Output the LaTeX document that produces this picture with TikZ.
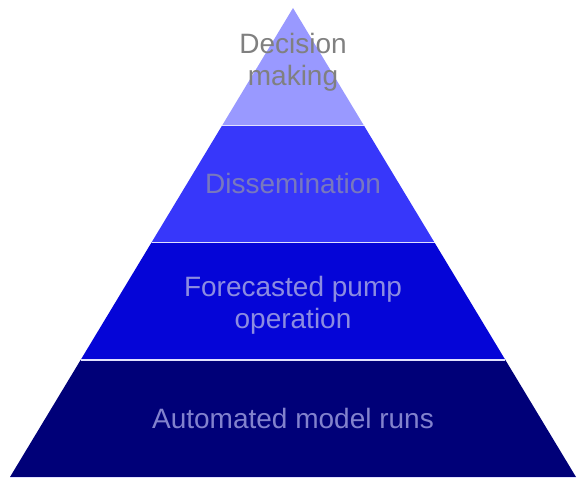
\documentclass[tikz,border=0pt]{standalone}
\usepackage{fontspec}
\setmainfont{Liberation Sans}
\usepackage{tikz}
\usetikzlibrary{calc}
\definecolor{layerone}{RGB}{153,153,255}
\definecolor{layertwo}{RGB}{55,55,250}
\definecolor{layerthree}{RGB}{5,5,215}
\definecolor{layerfour}{RGB}{0,0,120}
\definecolor{textone}{RGB}{128,128,128}
\definecolor{texttwo}{RGB}{120,120,190}
\definecolor{textthree}{RGB}{140,140,225}
\definecolor{textfour}{RGB}{130,130,205}
\definecolor{seamline}{RGB}{225,225,255}

\begin{document}
\begin{tikzpicture}[x=1pt,y=1pt,
    label/.style={align=center,font=\fontsize{28}{32}\selectfont}]
                \useasboundingbox (0,0) rectangle (577,483);
                \coordinate (apex) at (293,475);
                \coordinate (baseL) at (10,6);
                \coordinate (baseR) at (576,6);
                % points down the two sides
                \foreach \t/\n in {0.25/a,0.5/b,0.75/c} {
                    \coordinate (L\n) at ($(apex)!\t!(baseL)$);
                    \coordinate (R\n) at ($(apex)!\t!(baseR)$);
                }
                \fill[layerone] (apex) -- (La) -- (Ra) -- cycle;
                \fill[layertwo] (La) -- (Lb) -- (Rb) -- (Ra) -- cycle;
                \fill[layerthree] (Lb) -- (Lc) -- (Rc) -- (Rb) -- cycle;
                \fill[layerfour] (Lc) -- (baseL) -- (baseR) -- (Rc) -- cycle;
                \foreach \n in {a,b,c} {
                    \draw[seamline,line width=1.5pt] (L\n) -- (R\n);
                }
                \draw[seamline,line width=1pt] (baseL) -- (baseR);
                \node[label,textone] (decision) at (293,421) {Decision\\making};
                \node[label,texttwo] (dissem) at (293,300) {Dissemination};
                \node[label,textthree] (forecast) at (293,178) {Forecasted pump\\operation};
                \node[label,textfour] (modelruns) at (293,65) {Automated model runs};
            \end{tikzpicture}
\end{document}
